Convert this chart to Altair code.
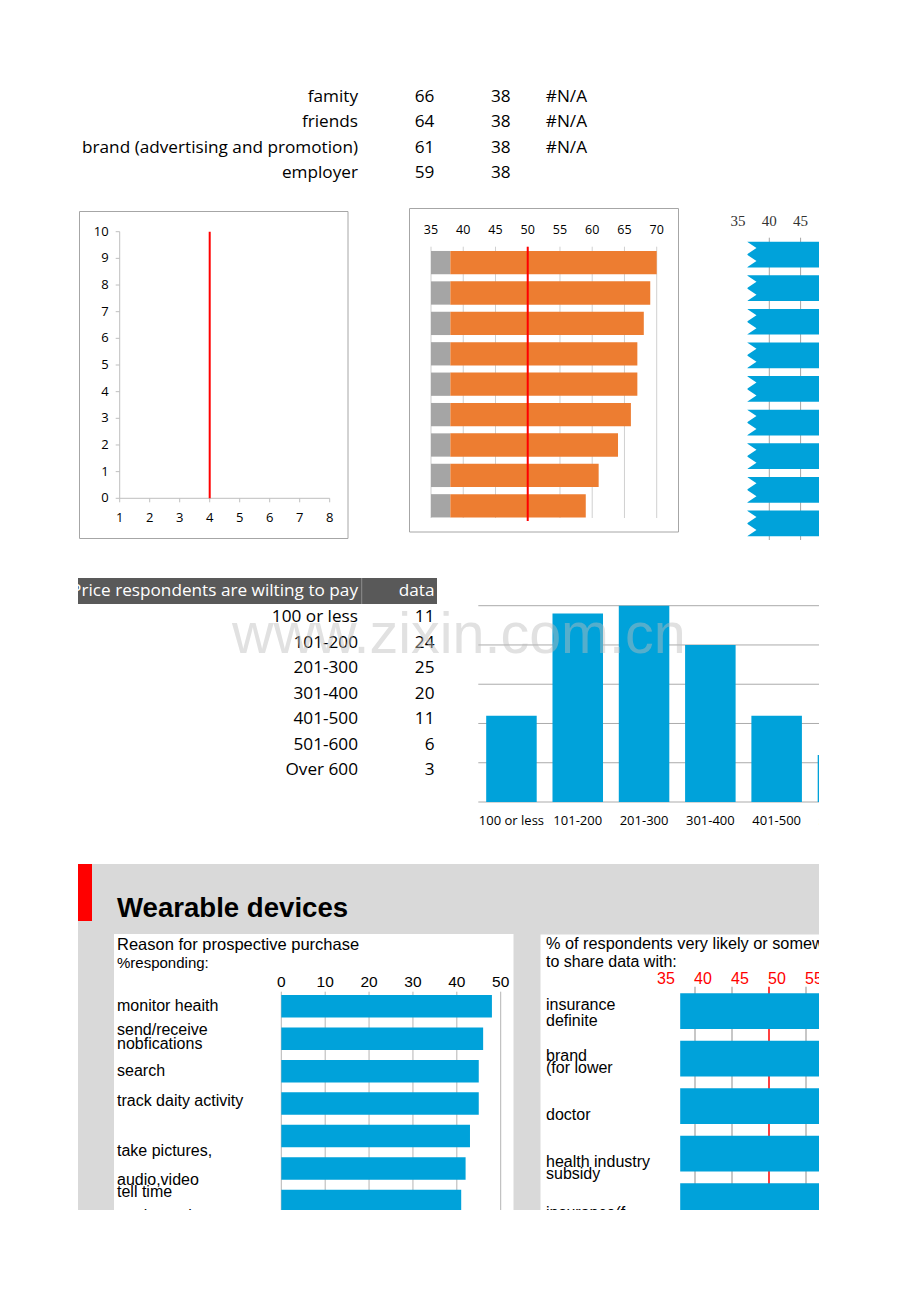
import altair as alt
import pandas as pd

# ---------------- values ----------------
SHARE_CATS = ["insurance definite", "brand (for lower", "doctor",
              "health industry subsidy", "insurance(f", "famity", "friends",
              "brand (advertising and promotion)", "employer"]
SHARE_VALS = [70, 69, 68, 67, 67, 66, 64, 61, 59]
SHARE_BASE = [38, 38, 38, 38, 38, 38, 38, 38, 38]

TABLE1_LABELS = ["famity", "friends", "brand (advertising and promotion)", "employer"]
TABLE1_COL1 = ["66", "64", "61", "59"]
TABLE1_COL2 = ["38", "38", "38", "38"]
TABLE1_COL3 = ["#N/A", "#N/A", "#N/A", ""]

LINE_X = [4, 4]
LINE_Y = [0, 10]
LINE_XTICKS = [1, 2, 3, 4, 5, 6, 7, 8]
LINE_YTICKS = [0, 1, 2, 3, 4, 5, 6, 7, 8, 9, 10]

ORANGE_TICKS = [35, 40, 45, 50, 55, 60, 65, 70]
REF_X = [50, 50]
REF_Y = [0, 1]

BLUE_TICKS = [35, 40, 45]
BLUE_GRID = [40, 45]
BLUE_START = [36.5, 36.5, 36.5, 36.5, 36.5, 36.5, 36.5, 36.5, 36.5]

PRICE_HEADER = ["Price respondents are wilting to pay", "data"]
PRICE_CATS = ["100 or less", "101-200", "201-300", "301-400", "401-500", "501-600", "Over 600"]
PRICE_VALS = [11, 24, 25, 20, 11, 6, 3]
PRICE_YTICKS = [0, 5, 10, 15, 20, 25]

REASONS = ["monitor heaith", "send/receive nobfications", "search", "track daity activity",
           "take pictures, audio,video", "tell time", "track running"]
REASON_LINES = [["monitor heaith"], ["send/receive", "nobfications"], ["search"],
                ["track daity activity"], ["take pictures,", "audio,video"],
                ["tell time"], ["track running"]]
REASON_VALS = [48, 46, 45, 45, 43, 42, 41]
REASON_TICKS = [0, 10, 20, 30, 40, 50]

WEAR_CATS = SHARE_CATS[:5]
WEAR_LINES = [["insurance", "definite"], ["brand", "(for lower"], ["doctor"],
              ["health industry", "subsidy"], ["insurance(f"]]
WEAR_VALS = SHARE_VALS[:5]
WEAR_START = [38, 38, 38, 38, 38]
WEAR_TICKS = [35, 40, 45, 50, 55, 60]
WEAR_GRID = [40, 45, 55, 60]
WEAR_REF = [50]

# ---------------- layout / style ----------------
LEFT, TOP, RIGHT, BOTTOM = 78, 8, 819, 1210
W, H = RIGHT - LEFT, BOTTOM - TOP
SANS = "Open Sans"
ARIAL = "Liberation Sans"
SERIF = "Liberation Serif"
BLUE = "#00A2DA"
RED = "#FF0000"
TFS = 17.2  # spreadsheet cell font size

# first-line offsets (px) of the category labels from their bar centres
REASON_DY = [0, -8.7, 0, -2.6, 15, 23.5, 15]
REASON_LH = [14, 14, 14, 14, 29, 14, 14]
WEAR_DY = [-6.2, -2.7, 9, 8.4, 12]
WEAR_LH = [16, 12, 14, 12, 14]


def rx(a, b):
    return [a - LEFT, b - LEFT]


def ry(a, b):
    return [a - TOP, b - TOP]


def lin(domain, rng, **kw):
    return alt.Scale(domain=domain, range=rng, nice=False, zero=False, **kw)


def band(domain, rng, pi, po):
    return alt.Scale(domain=domain, range=rng, paddingInner=pi, paddingOuter=po)


PX = lin([LEFT, RIGHT], rx(LEFT, RIGHT))
PY = lin([TOP, BOTTOM], ry(TOP, BOTTOM))
ONE = pd.DataFrame({"k": [0]})


def X(f, s):
    return alt.X(f, scale=s, axis=None)


def Y(f, s):
    return alt.Y(f, scale=s, axis=None)


def XD(v):
    return alt.XDatum(v, type="quantitative", scale=PX, axis=None)


def YD(v):
    return alt.YDatum(v, type="quantitative", scale=PY, axis=None)


layers = []


def box(x0, x1, y0, y1, **mk):
    layers.append(alt.Chart(ONE).mark_rect(clip=True, **mk).encode(
        x=XD(x0), x2=alt.X2Datum(x1), y=YD(y0), y2=alt.Y2Datum(y1)))


def note(text, x, y, size, color="black", font=ARIAL, align="left", weight="normal",
         baseline="middle", lh=None, opacity=1):
    kw = dict(text=text, align=align, baseline=baseline, fontSize=size, font=font,
              color=color, fontWeight=weight, clip=True, opacity=opacity)
    if lh:
        kw["lineHeight"] = lh
    layers.append(alt.Chart(ONE).mark_text(**kw).encode(x=XD(x), y=YD(y)))


# ---------------- table 1 ----------------
rows = []
for i, lab in enumerate(TABLE1_LABELS):
    for c, v in enumerate([lab, TABLE1_COL1[i], TABLE1_COL2[i], TABLE1_COL3[i]]):
        rows.append({"row": i, "col": c, "t": v})
layers.append(alt.Chart(pd.DataFrame(rows)).mark_text(
    align="right", baseline="middle", font=SANS, fontSize=TFS, color="black", clip=True).encode(
    x=X("col:Q", lin([0, 3], rx(358, 587))), y=Y("row:Q", lin([0, 3], ry(97, 173))), text="t:N"))

# ---------------- line chart ----------------
box(79.5, 348, 211.5, 538.5, fill="white", stroke="#A6A6A6", strokeWidth=1)
LXS = lin([1, 8], rx(119.7, 329.7))
LYS = lin([0, 10], ry(498.3, 231.7))
AX = "#BFBFBF"
ydf = pd.DataFrame({"v": LINE_YTICKS, "x": min(LINE_XTICKS)})
xdf = pd.DataFrame({"v": LINE_XTICKS, "y": min(LINE_YTICKS)})
layers.append(alt.Chart(pd.DataFrame({"x": [min(LINE_XTICKS)], "y": [min(LINE_YTICKS)], "y2": [max(LINE_YTICKS)]}))
              .mark_rule(color=AX).encode(x=X("x:Q", LXS), y=Y("y:Q", LYS), y2="y2:Q"))
layers.append(alt.Chart(pd.DataFrame({"x": [min(LINE_XTICKS)], "x2": [max(LINE_XTICKS)], "y": [min(LINE_YTICKS)]}))
              .mark_rule(color=AX).encode(x=X("x:Q", LXS), x2="x2:Q", y=Y("y:Q", LYS)))
layers.append(alt.Chart(ydf).mark_rule(color=AX, x2Offset=-4).encode(
    x=X("x:Q", LXS), x2="x:Q", y=Y("v:Q", LYS)))
layers.append(alt.Chart(xdf).mark_rule(color=AX, y2Offset=4).encode(
    x=X("v:Q", LXS), y=Y("y:Q", LYS), y2="y:Q"))
layers.append(alt.Chart(ydf).mark_text(align="right", baseline="middle", dx=-11, font=SANS,
                                       fontSize=13, color="black").encode(
    x=X("x:Q", LXS), y=Y("v:Q", LYS), text="v:Q"))
layers.append(alt.Chart(xdf).mark_text(align="center", baseline="middle", dy=20, font=SANS,
                                       fontSize=13, color="black").encode(
    x=X("v:Q", LXS), y=Y("y:Q", LYS), text="v:Q"))
layers.append(alt.Chart(pd.DataFrame({"x": LINE_X, "y": LINE_Y})).mark_line(
    color=RED, strokeWidth=2).encode(x=X("x:Q", LXS), y=Y("y:Q", LYS)))

# ---------------- orange bar chart ----------------
box(409.5, 678.5, 208.5, 532, fill="white", stroke="#A6A6A6", strokeWidth=1)
OXS = lin([35, 70], rx(431, 656.7), clamp=True)
OYS = band(SHARE_CATS, ry(247.4, 521), 0.234, 0.117)
OFR = lin([0, 1], ry(246.7, 518))
sh = pd.DataFrame({"cat": SHARE_CATS, "val": SHARE_VALS, "base": SHARE_BASE, "zero": 0})
layers.append(alt.Chart(pd.DataFrame({"v": ORANGE_TICKS, "a": 0, "b": 1})).mark_rule(
    color="#D0D0D0").encode(x=X("v:Q", OXS), y=Y("a:Q", OFR), y2="b:Q"))
layers.append(alt.Chart(sh).mark_bar(color="#A5A5A5").encode(
    x=X("zero:Q", OXS), x2="base:Q", y=Y("cat:N", OYS)))
layers.append(alt.Chart(sh).mark_bar(color="#ED7D31").encode(
    x=X("base:Q", OXS), x2="val:Q", y=Y("cat:N", OYS)))
layers.append(alt.Chart(pd.DataFrame({"x": REF_X, "y": REF_Y})).mark_line(
    color=RED, strokeWidth=2).encode(x=X("x:Q", OXS), y=Y("y:Q", lin([0, 1], ry(521, 246.7)))))
layers.append(alt.Chart(pd.DataFrame({"v": ORANGE_TICKS})).mark_text(
    font=SANS, fontSize=12.5, baseline="middle", color="black").encode(
    x=X("v:Q", OXS), y=YD(230), text="v:Q"))

# ---------------- blue (cut) bar chart ----------------
BXS = lin([35, 45], rx(738, 800.6))
BYS = band(SHARE_CATS, ry(237.75, 540.2), 0.235, 0.1175)
bl = pd.DataFrame({"cat": SHARE_CATS, "val": SHARE_VALS, "start": BLUE_START})
layers.append(alt.Chart(pd.DataFrame({"v": BLUE_GRID, "a": 0, "b": 1})).mark_rule(
    color="#A6A6A6").encode(x=X("v:Q", BXS), y=Y("a:Q", lin([0, 1], ry(237.7, 540))), y2="b:Q"))
layers.append(alt.Chart(bl).mark_bar(color=BLUE, clip=True).encode(
    x=X("start:Q", BXS), x2="val:Q", y=Y("cat:N", BYS)))
NOTCH = "M -1.05 -1 L -0.3 -0.5 L -1.05 0 L -0.3 0.5 L -1.05 1 Z"
layers.append(alt.Chart(bl).mark_point(shape=NOTCH, size=676, filled=True, color="white",
                                       opacity=1, strokeWidth=0, xOffset=13).encode(
    x=X("start:Q", BXS), y=Y("cat:N", BYS)))
layers.append(alt.Chart(pd.DataFrame({"v": BLUE_TICKS})).mark_text(
    font=SERIF, fontSize=15, baseline="middle", color="#333333").encode(
    x=X("v:Q", BXS), y=YD(221), text="v:Q"))

# ---------------- table 2 ----------------
box(78, 437, 578, 604, fill="#595959")
box(361.2, 362.2, 578, 604, fill="#8C8C8C")
T2X = lin([0, 1], rx(358, 434.5))
T2Y = lin([0, 6], ry(617, 770))
hd = pd.DataFrame({"col": [0, 1], "t": PRICE_HEADER})
layers.append(alt.Chart(hd).mark_text(align="right", baseline="middle", font=SANS, fontSize=TFS,
                                      color="white", clip=True).encode(
    x=X("col:Q", T2X), y=YD(591), text="t:N"))
rows2 = []
for i, (c, v) in enumerate(zip(PRICE_CATS, PRICE_VALS)):
    rows2.append({"row": i, "col": 0, "t": c})
    rows2.append({"row": i, "col": 1, "t": str(v)})
layers.append(alt.Chart(pd.DataFrame(rows2)).mark_text(
    align="right", baseline="middle", font=SANS, fontSize=TFS, color="black", clip=True).encode(
    x=X("col:Q", T2X), y=Y("row:Q", T2Y), text="t:N"))

# ---------------- histogram ----------------
HXS = band(PRICE_CATS, rx(478.3, 942.4), 0.238, 0.119)
HYS = lin([0, 25], ry(802, 605.7))
layers.append(alt.Chart(pd.DataFrame({"v": PRICE_YTICKS, "a": 0, "b": 1})).mark_rule(
    color="#ABABAB", clip=True).encode(
    y=Y("v:Q", HYS), x=X("a:Q", lin([0, 1], rx(478.3, 819))), x2="b:Q"))
pr = pd.DataFrame({"cat": PRICE_CATS, "val": PRICE_VALS})
layers.append(alt.Chart(pr).mark_bar(color=BLUE, clip=True).encode(
    x=X("cat:N", HXS), y=Y("val:Q", HYS)))
layers.append(alt.Chart(pr).mark_text(font=SANS, fontSize=13, baseline="middle", color="black",
                                      clip=True).encode(
    x=X("cat:N", HXS), y=YD(821), text="cat:N"))

# watermark (semi-transparent, on top of the table and the columns)
note("www.zixin.com.cn", 232, 653, 57.5, color="#BDBDBD", font=ARIAL, baseline="alphabetic",
     opacity=0.45)

# ---------------- wearable devices ----------------
box(78, 830, 864, 1220, fill="#D9D9D9")
box(78, 92, 864, 921, fill=RED)
note("Wearable devices", 117, 909, 27.6, weight="bold")
box(114, 513.5, 934, 1220, fill="white")
box(540.5, 830, 934.5, 1220, fill="white")

# panel 1
note("Reason for prospective purchase", 117, 945, 16.5)
note("%responding:", 117, 962.5, 15)
RXS = lin([0, 50], rx(281.3, 500.7))
RYS = band(REASONS, ry(990, 1217.2), 0.307, 0.1535)
layers.append(alt.Chart(pd.DataFrame({"v": REASON_TICKS, "a": 0, "b": 1})).mark_rule(
    color="#B4B4B4", clip=True).encode(
    x=X("v:Q", RXS), y=Y("a:Q", lin([0, 1], ry(991.7, 1215))), y2="b:Q"))
rs = pd.DataFrame({"cat": REASONS, "val": REASON_VALS, "zero": 0})
layers.append(alt.Chart(rs).mark_bar(color=BLUE, clip=True).encode(
    x=X("zero:Q", RXS), x2="val:Q", y=Y("cat:N", RYS)))
layers.append(alt.Chart(pd.DataFrame({"v": REASON_TICKS})).mark_text(
    font=ARIAL, fontSize=15.5, baseline="middle", color="black").encode(
    x=X("v:Q", RXS), y=YD(982), text="v:Q"))
for cat, lines, dy, lh in zip(REASONS, REASON_LINES, REASON_DY, REASON_LH):
    layers.append(alt.Chart(ONE).mark_text(
        text=lines, align="left", baseline="middle", font=ARIAL, fontSize=16, lineHeight=lh,
        dy=dy, color="black", clip=True).encode(
        x=XD(117), y=alt.YDatum(cat, type="nominal", scale=RYS, axis=None)))

# panel 2
note("% of respondents very likely or somewhat likely", 546, 943.5, 16.3)
note("to share data with:", 546, 961.5, 16)
SXS = lin([35, 55], rx(658, 806))
SYS = band(WEAR_CATS, ry(987.4, 1224.9), 0.248, 0.124)
SFR = lin([0, 1], ry(986.7, 1215))
layers.append(alt.Chart(pd.DataFrame({"v": WEAR_GRID, "a": 0, "b": 1})).mark_rule(
    color="#B4B4B4", strokeWidth=1.5, clip=True).encode(x=X("v:Q", SXS), y=Y("a:Q", SFR), y2="b:Q"))
layers.append(alt.Chart(pd.DataFrame({"v": WEAR_REF, "a": 0, "b": 1})).mark_rule(
    color=RED, strokeWidth=1.5, clip=True).encode(x=X("v:Q", SXS), y=Y("a:Q", SFR), y2="b:Q"))
ws = pd.DataFrame({"cat": WEAR_CATS, "val": WEAR_VALS, "start": WEAR_START})
layers.append(alt.Chart(ws).mark_bar(color=BLUE, clip=True).encode(
    x=X("start:Q", SXS), x2="val:Q", y=Y("cat:N", SYS)))
layers.append(alt.Chart(pd.DataFrame({"v": WEAR_TICKS})).mark_text(
    font=ARIAL, fontSize=16, baseline="middle", color=RED, dx=8, clip=True).encode(
    x=X("v:Q", SXS), y=YD(978.5), text="v:Q"))
for cat, lines, dy, lh in zip(WEAR_CATS, WEAR_LINES, WEAR_DY, WEAR_LH):
    layers.append(alt.Chart(ONE).mark_text(
        text=lines, align="left", baseline="middle", font=ARIAL, fontSize=16, lineHeight=lh,
        dy=dy, color="black", clip=True).encode(
        x=XD(546), y=alt.YDatum(cat, type="nominal", scale=SYS, axis=None)))

chart = alt.layer(*layers).resolve_scale(x="independent", y="independent").properties(
    width=W, height=H, autosize="none",
    padding={"left": LEFT - 8, "top": TOP - 8, "right": 0, "bottom": 0},
    background="white",
).configure_view(strokeWidth=0)

chart.save("out.html", embed_options={"renderer": "svg", "actions": False})
